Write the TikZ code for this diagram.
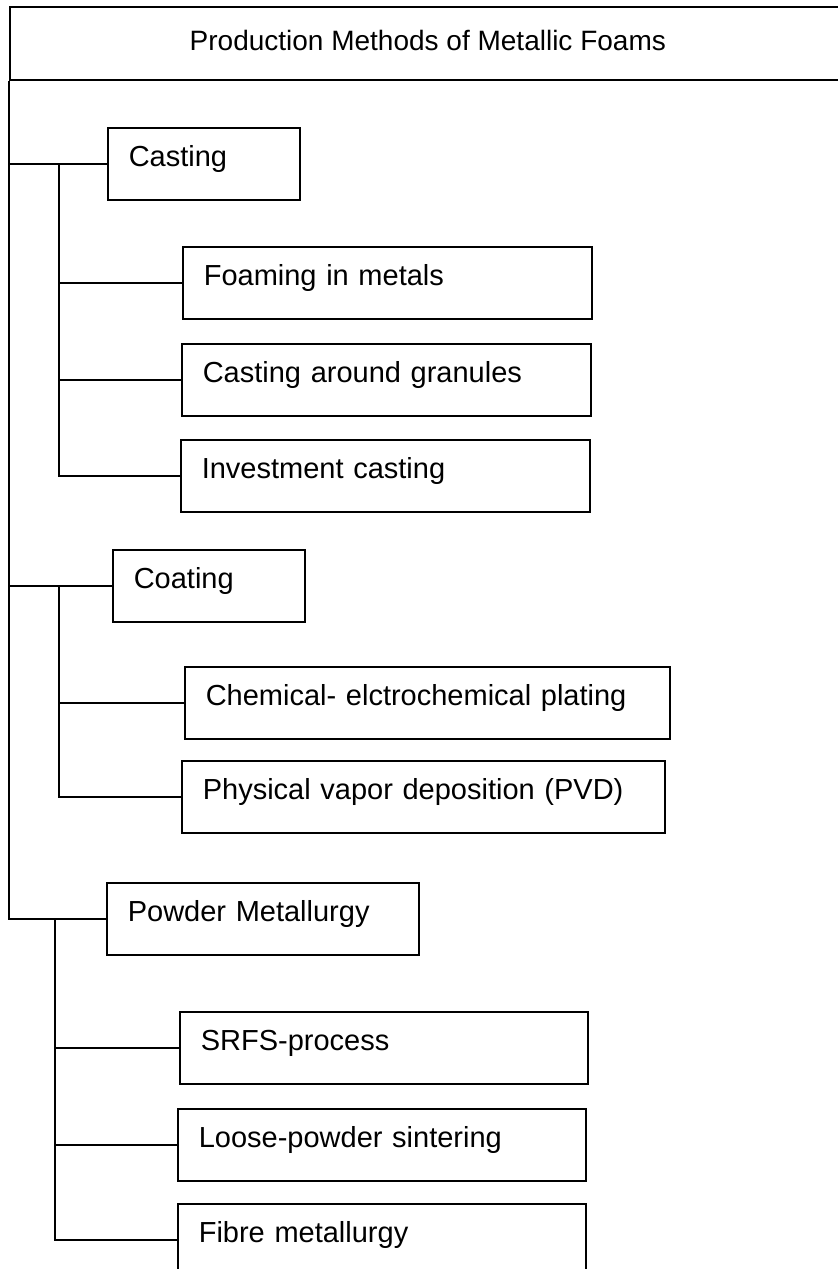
\documentclass[tikz,border=0pt]{standalone}
\usepackage{fontspec}
\setmainfont{Liberation Sans}

\begin{document}
\begin{tikzpicture}[x=0.5pt,y=-0.5pt,
  box/.style={draw, line width=0.8pt, anchor=north west,
    inner xsep=10.5pt, inner ysep=0pt,
    text height=19.5pt, text depth=16.5pt,
    align=left, font=\fontsize{14.5}{17}\selectfont},
  link/.style={line width=0.8pt}]

\useasboundingbox (0,0) rectangle (837,1269);

%---------------------------------------
% Title
%---------------------------------------
\node[draw, line width=0.8pt, anchor=north west, inner sep=0pt,
      minimum width=418pt, text height=22pt, text depth=14.5pt,
      font=\fontsize{14}{17}\selectfont]
  (title) at (9,6) {Production Methods of Metallic Foams};

%---------------------------------------
% Casting
%---------------------------------------
\node[box, text width=75pt]    (casting) at (107,127) {Casting};
\node[box, text width=183.5pt] (foaming) at (182,246) {Foaming in metals};
\node[box, text width=183.5pt] (granule) at (181,343) {Casting around granules};
\node[box, text width=183.5pt] (invest)  at (180,439) {Investment casting};

%---------------------------------------
% Coating
%---------------------------------------
\node[box, text width=75pt]    (coating) at (112,549) {Coating};
\node[box, text width=221.5pt] (plating) at (184,666) {Chemical- elctrochemical plating};
\node[box, text width=220.5pt] (pvd)     at (181,760) {Physical vapor deposition (PVD)};

%---------------------------------------
% Powder Metallurgy
%---------------------------------------
\node[box, text width=135pt]   (powder)  at (106,882) {Powder Metallurgy};
\node[box, text width=183pt]   (srfs)    at (179,1011) {SRFS-process};
\node[box, text width=183pt]   (loose)   at (177,1108) {Loose-powder sintering};
\node[box, text width=183pt]   (fibre)   at (177,1203) {Fibre metallurgy};

% bus lines
\coordinate (castbus) at (59,0);
\coordinate (coatbus) at (59,0);
\coordinate (powbus)  at (55,0);

% main trunk
\draw[link, line width=1.1pt] (title.south west) |- (powder.west);
\draw[link] (title.south west |- casting.west) -- (casting.west);
\draw[link] (title.south west |- coating.west) -- (coating.west);

% casting branch
\draw[link] (castbus |- casting.west) |- (invest.west);
\draw[link] (castbus |- foaming.west) -- (foaming.west);
\draw[link] (castbus |- granule.west) -- (granule.west);

% coating branch
\draw[link] (coatbus |- coating.west) |- (pvd.west);
\draw[link] (coatbus |- plating.west) -- (plating.west);

% powder branch
\draw[link] (powbus |- powder.west) |- (fibre.west);
\draw[link] (powbus |- srfs.west) -- (srfs.west);
\draw[link] (powbus |- loose.west) -- (loose.west);

\end{tikzpicture}
\end{document}
